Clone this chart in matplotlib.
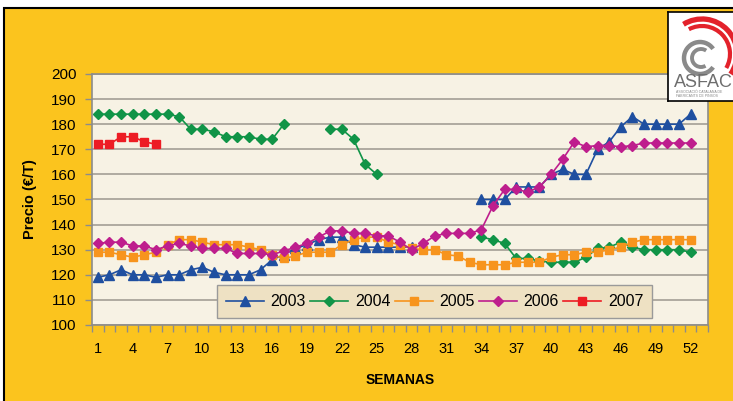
"""
Precio semanal (€/T) por año, 2003-2007.
Gráfico de líneas estilo Excel con fondo amarillo y logo ASFAC.
Salida: out.png (733x401 px)
"""

import numpy as np
import matplotlib
matplotlib.use("Agg")
import matplotlib.pyplot as plt
from matplotlib.patches import Rectangle, Arc

# ── Config ────────────────────────────────────────────────────────────────────
W, H = 733, 401
DPI = 100
plt.rcParams['font.family'] = ['Liberation Sans', 'DejaVu Sans']

YELLOW   = "#FBC41E"
PLOT_BG  = "#F7F2E4"
GRID     = "#A39E95"
SPINE    = "#8C8C8C"
LEGEND_BG = "#EEE1C3"

nan = np.nan

# ── Data ─────────────────────────────────────────────────────────────────────
WEEKS = list(range(1, 53))
XTICKS = list(range(1, 53, 3))
YTICKS = list(range(100, 201, 10))

P2003 = [119, 120, 122, 120, 120, 119, 120, 120, 122, 123,
         121, 120, 120, 120, 122, 126, 128, 130.5, 132, 134,
         135, 135, 132, 131, 131, 131, 131, 131, nan, nan,
         nan, nan, nan, 150, 150, 150, 155, 155, 155, 160,
         162, 160, 160, 170, 173, 179, 183, 180, 180, 180,
         180, 184]

P2004 = [184, 184, 184, 184, 184, 184, 184, 183, 178, 178,
         177, 175, 175, 175, 174, 174, 180, nan, nan, nan,
         178, 178, 174, 164, 160, nan, nan, nan, nan, nan,
         nan, nan, nan, 135, 134, 132.5, 126.5, 126.5, 125.5, 125,
         125, 125, 127, 130.5, 131, 133, 131, 130, 130, 130,
         130, 129]

P2005 = [129, 129, 128, 127, 128, 129, 132, 134, 134, 133,
         132, 132, 132, 131, 130, 128, 126.5, 127.5, 129, 129,
         129, 132, 134, 135, 135, 133, 132, 130.5, 130, 130,
         128, 127.5, 125, 124, 124, 124, 125, 125, 125, 127,
         128, 128, 129, 129, 130, 131, 133, 134, 134, 134,
         134, 134]

P2006 = [132.5, 133, 133, 131.5, 131.5, 130, 131.5, 132.5, 131.5, 130.5,
         130.5, 130.5, 128.5, 128.5, 128.5, 128, 129.5, 131, 132.5, 135,
         137.5, 137.5, 136.5, 136.5, 135.5, 135.5, 133, 130, 132.5, 135.5,
         136.5, 136.5, 136.5, 138, 147.5, 154, 154, 153, 155, 160,
         166, 173, 171, 171.5, 171.5, 171, 171.5, 172.5, 172.5, 172.5,
         172.5, 172.5]

P2007 = [172, 172, 175, 175, 173, 172] + [nan] * 46

SERIES = [
    ("2003", P2003, "#1F4FA0", "^", 7.0),
    ("2004", P2004, "#109447", "D", 5.5),
    ("2005", P2005, "#F7941D", "s", 6.0),
    ("2006", P2006, "#BE1E8D", "D", 5.5),
    ("2007", P2007, "#ED1C24", "s", 6.0),
]


# ── Logo ASFAC (aproximado) ──────────────────────────────────────────────────
def draw_logo(fig):
    x0, y0, x1, y1 = 668, 12, 748, 101          # px, y desde arriba
    lax = fig.add_axes([x0 / W, 1 - y1 / H, (x1 - x0) / W, (y1 - y0) / H])
    lax.set_xlim(x0, x1)
    lax.set_ylim(H - y1, H - y0)
    lax.set_facecolor("white")
    lax.set_xticks([])
    lax.set_yticks([])
    for sp in lax.spines.values():
        sp.set_color("black")
        sp.set_linewidth(1.2)

    cx, cy = 702, H - 54
    lax.add_patch(Arc((cx, cy), 70, 70, theta1=-35, theta2=122,
                      color="#E3222B", lw=3.8))
    lax.add_patch(Arc((cx, cy), 56, 56, theta1=-30, theta2=118,
                      color="#E3222B", lw=3.0))
    lax.add_patch(Arc((cx - 2, cy - 4), 32, 32, theta1=35, theta2=325,
                      color="#8A8A8A", lw=3.2))
    lax.add_patch(Arc((cx - 1, cy - 4), 18, 18, theta1=55, theta2=300,
                      color="#8A8A8A", lw=2.8))

    lax.text(674, H - 87, "ASFAC", color="#6E6E6E", fontsize=13,
             ha="left", va="baseline")
    lax.text(676, H - 92, "ASSOCIACIÓ CATALANA DE", color="#888888",
             fontsize=2.5, ha="left", va="center")
    lax.text(676, H - 96, "FABRICANTS DE PINSOS", color="#888888",
             fontsize=2.5, ha="left", va="center")


# ── Main ──────────────────────────────────────────────────────────────────────
def main():
    fig = plt.figure(figsize=(W / DPI, H / DPI), dpi=DPI)
    fig.patch.set_facecolor("white")

    # fondo amarillo con borde negro (recortado a la derecha y abajo)
    bg = Rectangle((4 / W, -0.1), 1.2, (1 - 8 / H) + 0.1,
                   transform=fig.transFigure, facecolor=YELLOW,
                   edgecolor="black", linewidth=1.5, zorder=-10)
    fig.add_artist(bg)

    ax = fig.add_axes([92 / W, 1 - 325 / H, 616 / W, 251 / H])
    ax.set_facecolor(PLOT_BG)

    for label, vals, color, marker, ms in SERIES:
        ax.plot(WEEKS, vals, color=color, label=label, linewidth=1.2,
                marker=marker, markersize=ms, markerfacecolor=color,
                markeredgecolor=color)

    ax.set_xlim(0.5, 53.5)
    ax.set_ylim(100, 200)
    ax.set_yticks(YTICKS)
    ax.set_xticks(XTICKS)
    ax.set_xticks(np.arange(0.5, 54, 1.0), minor=True)
    ax.grid(axis="y", color=GRID, linewidth=1.2)
    ax.set_axisbelow(True)

    ax.tick_params(axis="x", which="major", length=0, pad=12, labelsize=10.5)
    ax.tick_params(axis="x", which="minor", length=5, color=SPINE, width=1)
    ax.tick_params(axis="y", length=5, color=SPINE, width=1, pad=6,
                   labelsize=11)
    for sp in ax.spines.values():
        sp.set_color(SPINE)
        sp.set_linewidth(1.2)

    leg = ax.legend(loc="lower left", bbox_to_anchor=(0.203, 0.028, 0.706, 0.139),
                    mode="expand", ncol=5, fancybox=False, framealpha=1,
                    facecolor=LEGEND_BG, edgecolor="#9A9A9A", fontsize=11.5,
                    handlelength=2.4, handletextpad=0.4, columnspacing=1.0,
                    borderpad=0.55, borderaxespad=0)
    leg.get_frame().set_linewidth(1.0)

    fig.text(30 / W, 1 - 199.5 / H, "Precio (€/T)", rotation=90,
             fontweight="bold", fontsize=10.5, ha="center", va="center")
    fig.text(400 / W, 1 - 380 / H, "SEMANAS", fontweight="bold",
             fontsize=10, ha="center", va="center")

    draw_logo(fig)

    fig.savefig("out.png", dpi=DPI)
    plt.close(fig)


if __name__ == "__main__":
    main()
